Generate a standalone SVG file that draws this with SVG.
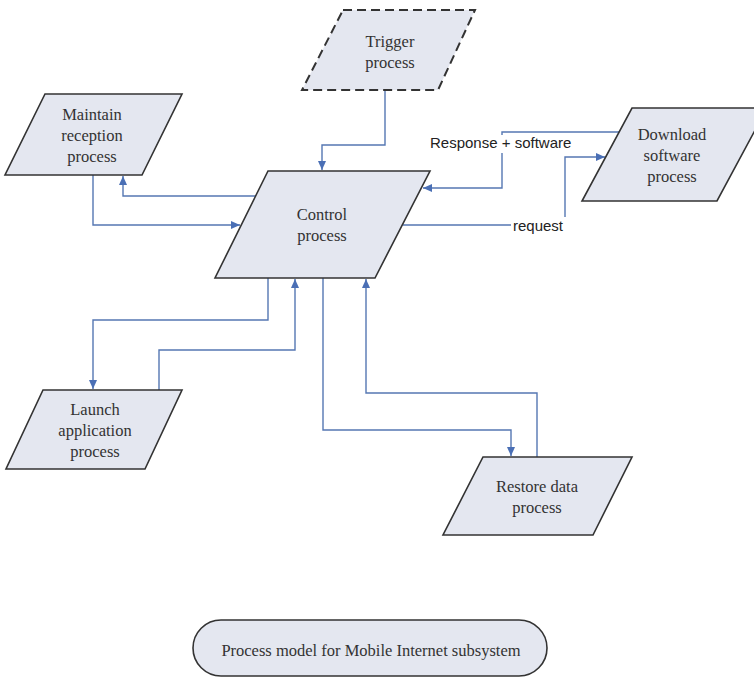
<svg xmlns="http://www.w3.org/2000/svg" width="754" height="678" viewBox="0 0 754 678">
  <style>
    .node { fill: #e4e7f0; stroke: #333333; stroke-width: 1.6; stroke-linejoin: miter; }
    .dashed { stroke-dasharray: 9 5; stroke-width: 2; }
    .label { font-family: "Liberation Serif", "Times New Roman", serif; font-size: 16.5px; fill: #333333; text-anchor: middle; }
    .conn { fill: none; stroke: #5577b3; stroke-width: 1.4; marker-end: url(#arrow); }
    .edge-label { font-family: "Liberation Sans", Arial, sans-serif; font-size: 15px; fill: #222222; }
    .bg { fill: #ffffff; }
  </style>
  <defs>
    <marker id="arrow" markerUnits="userSpaceOnUse" markerWidth="9" markerHeight="8" refX="9" refY="4" orient="auto">
      <path d="M0,0 L9,4 L0,8 z" fill="#4a6fb5"/>
    </marker>
  </defs>

  <rect width="754" height="678" fill="#ffffff"/>

  <!-- connectors -->
  <g id="connectors">
    <path class="conn" d="M385,90 V145 H322 V170"/>
    <path class="conn" d="M256,196 H123 V176"/>
    <path class="conn" d="M93,175 V225 H240"/>
    <path class="conn" d="M619,132 H502 V188 H423"/>
    <path class="conn" d="M403,225 H565 V157 H605"/>
    <path class="conn" d="M268,278 V320 H93 V389"/>
    <path class="conn" d="M159,390 V350 H295 V279"/>
    <path class="conn" d="M323,278 V430 H511 V456"/>
    <path class="conn" d="M537,457 V393 H366 V279"/>
    <rect class="bg" x="427" y="135" width="150" height="18"/>
    <text class="edge-label" x="430" y="148">Response + software</text>
    <rect class="bg" x="511" y="217" width="57" height="17"/>
    <text class="edge-label" x="513" y="231">request</text>
  </g>

  <!-- process nodes -->
  <g id="trigger">
    <polygon class="node dashed" points="343,10 475,10 438,90 302,90"/>
    <text class="label" x="390"><tspan x="390" y="47">Trigger</tspan><tspan x="390" y="68">process</tspan></text>
  </g>

  <g id="maintain">
    <polygon class="node" points="45,94 182,94 142,175 5,175"/>
    <text class="label"><tspan x="92" y="120">Maintain</tspan><tspan x="92" y="141">reception</tspan><tspan x="92" y="162">process</tspan></text>
  </g>

  <g id="control">
    <polygon class="node" points="268,171 430,171 375,278 215,278"/>
    <text class="label"><tspan x="322" y="220">Control</tspan><tspan x="322" y="241">process</tspan></text>
  </g>

  <g id="download">
    <polygon class="node" points="632,108 767,108 717,201 582,201"/>
    <text class="label"><tspan x="672" y="140">Download</tspan><tspan x="672" y="161">software</tspan><tspan x="672" y="182">process</tspan></text>
  </g>

  <g id="launch">
    <polygon class="node" points="43,390 182,390 145,469 6,469"/>
    <text class="label"><tspan x="95" y="415">Launch</tspan><tspan x="95" y="436">application</tspan><tspan x="95" y="457">process</tspan></text>
  </g>

  <g id="restore">
    <polygon class="node" points="483,457 632,457 593,535 443,535"/>
    <text class="label"><tspan x="537" y="492">Restore data</tspan><tspan x="537" y="513">process</tspan></text>
  </g>

  <g id="caption">
    <rect class="node" x="193" y="620" width="354" height="56" rx="28" ry="28"/>
    <text class="label" x="371" y="656">Process model for Mobile Internet subsystem</text>
  </g>
</svg>
